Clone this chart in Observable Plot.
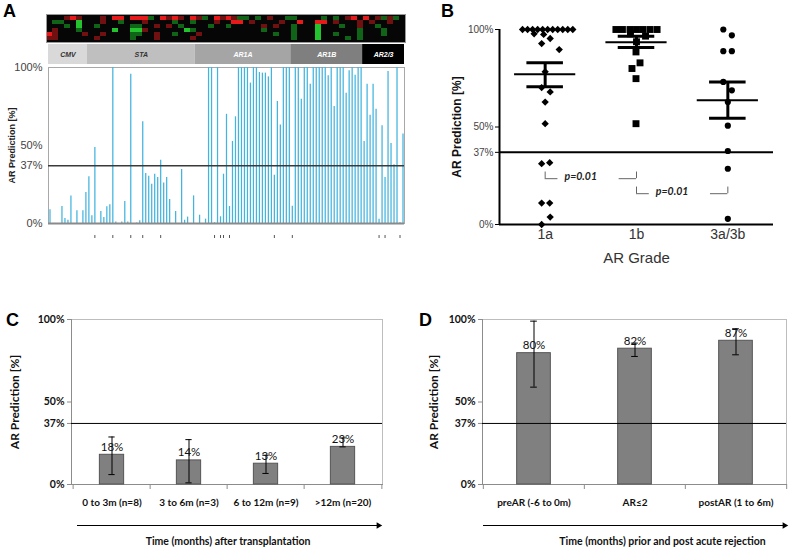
<!DOCTYPE html>
<html><head><meta charset="utf-8">
<script src="https://cdn.jsdelivr.net/npm/d3@7"></script>
<script src="https://cdn.jsdelivr.net/npm/@observablehq/plot@0.6"></script>
<style>
body{margin:0;background:#fff;}
#fig{position:relative;width:798px;height:551px;overflow:hidden;background:#fff;font-family:"Liberation Sans",Arial,sans-serif;}
.panel{position:absolute;}
.panel svg{max-width:none !important;overflow:visible;}
.lab{position:absolute;font-weight:bold;font-size:18px;line-height:18px;font-family:"Liberation Sans",Arial,sans-serif;}
</style></head><body><div id="fig"></div>
<script>
// ---------- DATA ----------
// Panel A: AR prediction per sample (%), 119 samples left to right (0 = empty slot)
const predA = [8.8,0,0,0,10.9,3.2,2.1,17.7,0,8.1, 0,8.1,19.9,30,4.9,48.7,0,7.7,3.8,10.7,
  12,100,0.9,0,1,14.1,0.9,95.7,0,0.4, 1.7,65.2,32,30.3,25.2,31.6,29.5,40.6,26,29.5,
  15.4,0,7.7,0,34.6,2.1,4.1,0,17.7,0, 5.3,0,2.8,100,100,0.5,100,4.3,31.6,70,
  10.9,52.6,68.4,100,100,100,100,90,100,100, 96.8,96.4,96.4,94,100,31,78.2,63.2,100,100,
  100,11.1,100,100,79.7,100,100,89.3,100,100, 100,100,100,94.7,100,75,100,100,100,83.5,
  97.9,100,95,100,100,52.6,89.3,69.4,89.3,73.3, 2.8,62.6,29.5,97.4,51.3,37.6,100,0.5,57.3];
const groupNames = ["CMV","STA","AR1A","AR1B","AR2/3"];
const groupSizes = [13,36,32,24,14];
const flaggedA = [15,21,27,31,37,55,57,58,60,75,81,110,112,117];
// heatmap: R bright red, r dark red, . black, g dark green, G bright green
const heatRows = [
  "...rRr...r.RR.RRRg.RrRr.Rrg.Rr" + "Rrgg.g.r..gg....g.g.rR.R.rgrg.",
  ".gg..G...r..g...r....g..g...r." + ".RR.r....r..R..RR.r...r.r..r..",
  "...g.G..g.....gg..r.r.g....g.." + "g.....r.r..g...G...g..r..g....",
  ".r...g.....G..GGr......Gg....." + "......g....g...G......g...g...",
  "Rr....r..r....gg..r..g...r...." + "........g..g...G..g...g...g...",
  "rr......r.....g...r.....r....." + "...........g...G....g.g......."
];
const yTicks = [0,37,50,100];

// Panel B: AR grade scatter
const gradeCats = ["1a","1b","3a/3b"];
const b1a = [100,100,100,100,100,100,100,100,100,100,100, 97.8,97.5,95.4,92.8,89.7,78.3,70.2,68,62.8,51.7,31.2,31.7,11,11,3.8,0];
const b1aSlot = [-4.5,-3.5,-2.5,-1.5,-0.5,0.5,1.5,2.5,3.5,4.5,5.5, -2.2,-0.3,1,-0.7,2.8,0,-0.7,1,0,0,-0.7,0.9,-0.7,0.9,1,-0.7];
const b1b = [100,100,100,100,100,100,100, 97.8,96.6,93.7,88.5,82.9,80,74.8,51.7];
const b1bSlot = [-4.1,-2.8,-1.3,0,1.3,2.7,4.1, -1.2,1.8,0,-0.1,0.7,-0.9,-0.1,-0.1];
const b3 = [100,97,88.9,88.9,73.1,68.8,62.8,50.7,37.7,28.6,2.9];
const b3Slot = [-0.9,0.8,-0.9,0.8,-0.9,0.8,0,0,0,0,0];
const meanB = [77,93.5,63.7];
const semLoB = [70.7,90.8,54.5];
const semHiB = [82.9,96.6,73.1];
const brackets = [{a:0,b:1,y:23.5,label:"p=0.01"},{a:1,b:2,y:15.8,label:"p=0.01"}];

// Panel C
const catsC = ["0 to 3m (n=8)","3 to 6m (n=3)","6 to 12m (n=9)",">12m (n=20)"];
const valC = [18,14.6,12.6,22.8];
const labC = ["18%","14%","13%","23%"];
const loC = [6,1,6.7,22.8];
const hiC = [28.8,27.2,17.7,28.2];
// Panel D
const catsD = ["preAR (-6 to 0m)","AR\u22642","postAR (1 to 6m)"];
const valD = [79.6,82.3,87.1];
const labD = ["80%","82%","87%"];
const loD = [59,77.6,78.6];
const hiD = [99,85.7,94.4];

// ---------- LAYOUT HELPERS ----------
const fig = document.getElementById("fig");
function place(node, left, top){const d=document.createElement("div");d.className="panel";d.style.left=left+"px";d.style.top=top+"px";d.appendChild(node);fig.appendChild(d);}
function panelLabel(t,left,top){const d=document.createElement("div");d.className="lab";d.style.left=left+"px";d.style.top=top+"px";d.textContent=t;fig.appendChild(d);}
const pct = d => d + "%";

// ---------- PANEL A ----------
const heatCells = heatRows.flatMap((row,r)=>Array.from(row,(ch,c)=>({r,c,v:ch})));
place(Plot.plot({
  width:359, height:28, margin:0,
  style:{background:"transparent"},
  x:{type:"band", domain:d3.range(heatRows[0].length), padding:0, axis:null},
  y:{type:"band", domain:d3.range(heatRows.length), padding:0, axis:null},
  color:{type:"ordinal", domain:["R","r",".","g","G"], range:["#e61a1a","#701010","#060606","#0f6418","#24c22e"]},
  marks:[
    Plot.frame({fill:"#060606"}),
    Plot.cell(heatCells,{x:"c", y:"r", fill:"v", inset:0, shapeRendering:"crispEdges"}),
    Plot.frame({stroke:"#999"})
  ]
}), 46, 14);

let acc = -0.5;
const groups = groupNames.map((name,i)=>{const x1=acc; acc+=groupSizes[i]; return {name,i,x1,x2:acc};});
const xDomA = [-0.5, predA.length - 0.5];
place(Plot.plot({
  width:420, height:20, marginLeft:48, marginRight:16, marginTop:0, marginBottom:0,
  style:{background:"transparent", fontFamily:"'Liberation Sans', Arial, sans-serif"},
  x:{domain:xDomA, axis:null},
  color:{domain:groupNames, range:["#d9d9d9","#bfbfbf","#a5a5a5","#7f7f7f","#000000"]},
  marks:[
    Plot.rect(groups,{x1:"x1", x2:"x2", fill:"name"}),
    Plot.text(groups.filter(g=>g.i<2),{x:d=>(d.x1+d.x2)/2, text:"name", fill:"#333", fontStyle:"italic", fontWeight:"bold", fontSize:7}),
    Plot.text(groups.filter(g=>g.i>=2),{x:d=>(d.x1+d.x2)/2, text:"name", fill:"#fff", fontStyle:"italic", fontWeight:"bold", fontSize:7})
  ]
}), 0, 44);

const plotHA = 190 - 7 - 27;
place(Plot.plot({
  width:420, height:190, marginLeft:48, marginRight:16, marginTop:7, marginBottom:27,
  style:{background:"transparent", fontFamily:"'Liberation Sans', Arial, sans-serif", fontSize:"11px"},
  x:{domain:xDomA, axis:null, label:null},
  y:{domain:[0,100], axis:null, label:null},
  marks:[
    Plot.frame({stroke:"#a8a8a8"}),
    Plot.ruleX(predA.map((v,i)=>({i,v})),{x:"i", y1:0, y2:"v", stroke:"#42b4de", strokeWidth:1.25}),
    Plot.ruleY([0],{stroke:"#8a8a8a", strokeWidth:2}),
    Plot.ruleY([37],{stroke:"#3a3a3a", strokeWidth:1.4}),
    Plot.ruleX(flaggedA,{x:d=>d, insetTop:plotHA+12, insetBottom:-15, stroke:"#555", strokeWidth:1}),
    Plot.axisY({ticks:yTicks, tickFormat:pct, tickSize:0, tickPadding:6, fontSize:11, fill:"#444", label:null}),
    Plot.text(["AR Prediction [%]"],{frameAnchor:"left", dx:-36, rotate:-90, textAnchor:"middle", lineAnchor:"middle", fontWeight:"bold", fontSize:9, fill:"#222"})
  ]
}), 0, 60);

// ---------- PANEL B ----------
const slotW = 0.055;
const ptsB = [
  ...b1a.map((v,k)=>({g:0,v,s:b1aSlot[k]})),
  ...b1b.map((v,k)=>({g:1,v,s:b1bSlot[k]})),
  ...b3.map((v,k)=>({g:2,v,s:b3Slot[k]}))
];
const statsB = gradeCats.map((c,i)=>({i, m:meanB[i], lo:semLoB[i], hi:semHiB[i]}));
const px = d => d.g + 0.5 + d.s*slotW;
place(Plot.plot({
  width:378, height:270, marginLeft:79, marginRight:25, marginTop:29, marginBottom:46,
  style:{background:"transparent", fontFamily:"'Liberation Sans', Arial, sans-serif", fontSize:"10px"},
  x:{domain:[0,3], axis:null, label:null},
  y:{domain:[0,100], axis:null, label:null},
  marks:[
    Plot.ruleY([37],{x1:0, x2:3, stroke:"#000", strokeWidth:2}),
    Plot.ruleY([0],{x1:0, x2:3, stroke:"#000", strokeWidth:2}),
    Plot.ruleX([0],{y1:0, y2:100, stroke:"#000", strokeWidth:2}),
    Plot.axisY({ticks:yTicks, tickFormat:pct, tickSize:4, tickPadding:2, fontSize:10, fill:"#444", stroke:"#000", label:null}),
    Plot.axisX({ticks:[0.5,1.5,2.5], tickFormat:d=>gradeCats[Math.floor(d)], tickSize:0, tickPadding:5, fontSize:14, fill:"#333", label:null}),
    Plot.text(["AR Grade"],{frameAnchor:"bottom", dy:34, lineAnchor:"middle", textAnchor:"middle", fontSize:15, fill:"#333"}),
    Plot.text(["AR Prediction [%]"],{frameAnchor:"left", dx:-42, rotate:-90, textAnchor:"middle", lineAnchor:"middle", fontWeight:"bold", fontSize:12, fill:"#111"}),
    Plot.dot(ptsB.filter(d=>d.g===0),{x:px, y:"v", symbol:"diamond2", r:3.3, fill:"#000"}),
    Plot.dot(ptsB.filter(d=>d.g===1),{x:px, y:"v", symbol:"square", r:3.9, fill:"#000"}),
    Plot.dot(ptsB.filter(d=>d.g===2),{x:px, y:"v", symbol:"circle", r:3.1, fill:"#000"}),
    Plot.ruleY(statsB,{y:"m", x1:d=>d.i+0.5-0.335, x2:d=>d.i+0.5+0.335, stroke:"#000", strokeWidth:2}),
    Plot.ruleY(statsB,{y:"lo", x1:d=>d.i+0.5-0.2, x2:d=>d.i+0.5+0.2, stroke:"#000", strokeWidth:3}),
    Plot.ruleY(statsB,{y:"hi", x1:d=>d.i+0.5-0.2, x2:d=>d.i+0.5+0.2, stroke:"#000", strokeWidth:3}),
    Plot.ruleX(statsB,{x:d=>d.i+0.5, y1:"lo", y2:"hi", stroke:"#000", strokeWidth:3}),
    Plot.ruleY(brackets,{y:"y", x1:d=>d.a+0.5, x2:d=>d.a+0.5+0.14*(d.b-d.a), stroke:"#666", strokeWidth:1}),
    Plot.ruleY(brackets,{y:"y", x1:d=>d.b+0.5-0.19*(d.b-d.a), x2:d=>d.b+0.5, stroke:"#666", strokeWidth:1}),
    Plot.ruleX(brackets,{x:d=>d.a+0.5, y1:"y", y2:d=>d.y+3.4, stroke:"#666", strokeWidth:1}),
    Plot.ruleX(brackets,{x:d=>d.b+0.5, y1:"y", y2:d=>d.y+3.4, stroke:"#666", strokeWidth:1}),
    Plot.text(brackets,{x:d=>d.a+0.5+0.39*(d.b-d.a), y:"y", text:"label", dy:-2, fontStyle:"italic", fontWeight:"bold", fontSize:10.5, fontFamily:"Lato, sans-serif", fill:"#222"})
  ]
}), 420, 0);

// ---------- PANELS C & D ----------
function barPanel(o){
  const step = (o.width - o.ml - o.mr) / o.cats.length;
  const data = o.cats.map((c,i)=>({c, v:o.values[i], t:o.labels[i], lo:o.lo[i], hi:o.hi[i]}));
  const insetBar = (step - o.barW)/2, insetCap = (step - 7)/2;
  return Plot.plot({
    width:o.width, height:o.height, marginLeft:o.ml, marginRight:o.mr, marginTop:19, marginBottom:67,
    style:{background:"transparent", fontFamily:"Lato, 'Open Sans', sans-serif", fontSize:"10px", color:"#000"},
    x:{type:"band", domain:o.cats, padding:0, axis:null, label:null},
    y:{domain:[0,100], axis:null, label:null},
    marks:[
      Plot.frame({stroke:"#bdbdbd"}),
      Plot.frame({anchor:"left", stroke:"#8c8c8c"}),
      Plot.frame({anchor:"bottom", stroke:"#8c8c8c"}),
      Plot.axisX({ticks:o.cats, tickSize:5, tickFormat:()=>"", dx:-step/2, stroke:"#8c8c8c", label:null}),
      Plot.axisX({ticks:[o.cats[o.cats.length-1]], tickSize:5, tickFormat:()=>"", dx:step/2, stroke:"#8c8c8c", label:null}),
      Plot.axisX({ticks:o.cats, tickSize:0, tickPadding:14, fontWeight:"bold", fontSize:10, fill:"#111", label:null}),
      Plot.axisY({ticks:yTicks, tickFormat:pct, tickSize:4, tickPadding:3, fontWeight:"bold", fontSize:10.5, stroke:"#8c8c8c", fill:"#111", label:null}),
      Plot.barY(data,{x:"c", y:"v", fill:"#808080", stroke:"#555", strokeWidth:1, insetLeft:insetBar, insetRight:insetBar}),
      Plot.ruleY([37],{stroke:"#000", strokeWidth:1}),
      Plot.ruleX(data,{x:"c", y1:"lo", y2:"hi", stroke:"#000", strokeWidth:1}),
      Plot.tickY(data,{x:"c", y:"lo", insetLeft:insetCap, insetRight:insetCap, stroke:"#000"}),
      Plot.tickY(data,{x:"c", y:"hi", insetLeft:insetCap, insetRight:insetCap, stroke:"#000"}),
      Plot.text(data,{x:"c", y:"v", text:"t", dy:-4, lineAnchor:"bottom", fontSize:11.5, fill:"#111"}),
      Plot.text(["AR Prediction [%]"],{frameAnchor:"left", dx:o.ylabDx, rotate:-90, textAnchor:"middle", lineAnchor:"middle", fontWeight:"bold", fontSize:12, fill:"#111"}),
      Plot.ruleY([0],{dy:41, insetLeft:o.arrowL, insetRight:o.arrowR + 3, stroke:"#000", strokeWidth:1}),
      Plot.dot([0],{frameAnchor:"bottom-right", dx:-o.arrowR - 2, dy:41, symbol:"triangle", rotate:90, r:2.4, fill:"#000"}),
      Plot.text([o.title],{frameAnchor:"bottom", dy:57, dx:o.titleDx, textAnchor:"middle", lineAnchor:"middle", fontWeight:"bold", fontSize:10.5, fill:"#111"})
    ]
  });
}
place(barPanel({width:400, height:251, ml:71, mr:18, cats:catsC, values:valC, labels:labC, lo:loC, hi:hiC,
  barW:25, ylabDx:-56, arrowL:6, arrowR:2, titleDx:1, title:"Time (months) after transplantation"}), 0, 300);
place(barPanel({width:398, height:251, ml:82, mr:12, cats:catsD, values:valD, labels:labD, lo:loD, hi:hiD,
  barW:34, ylabDx:-48, arrowL:1, arrowR:0, titleDx:28, title:"Time (months) prior and post acute rejection"}), 400, 300);

// panel letters
panelLabel("A",3,2);
panelLabel("B",441,2);
panelLabel("C",6,311);
panelLabel("D",419,311);
</script>
</body></html>
